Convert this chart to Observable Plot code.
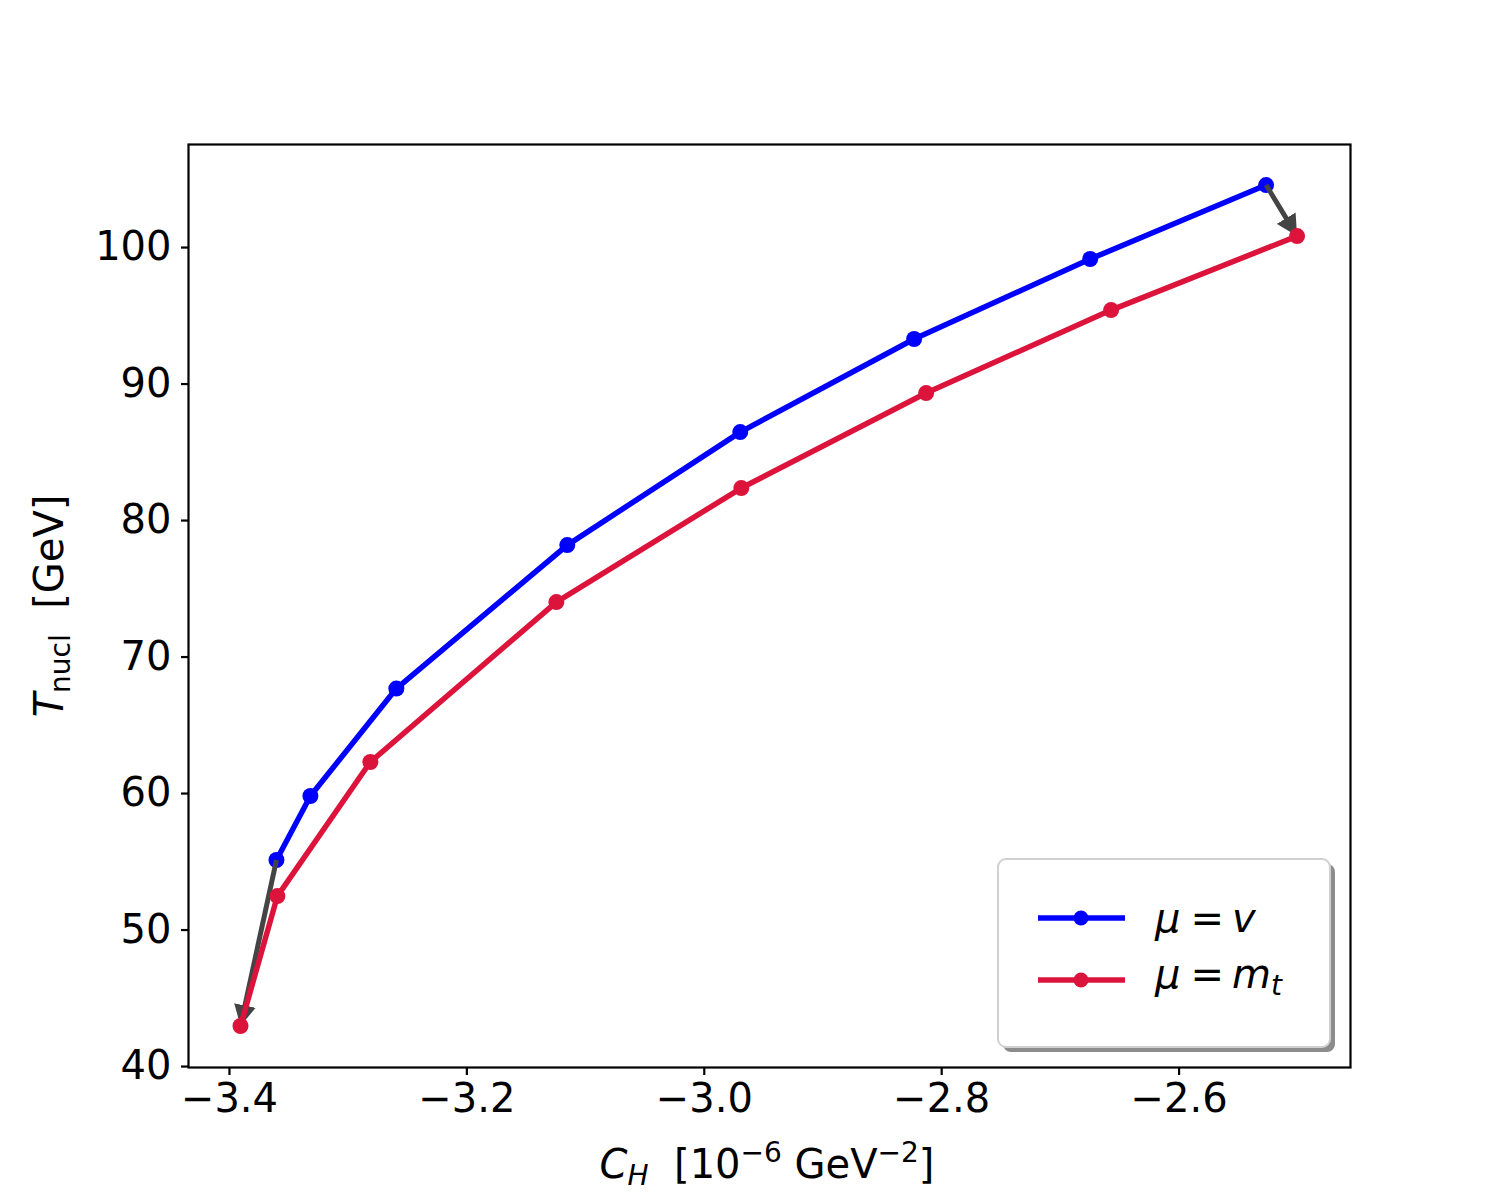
<!DOCTYPE html>
<html>
<head>
<meta charset="utf-8">
<script src="https://cdn.jsdelivr.net/npm/d3@7"></script>
<script src="https://cdn.jsdelivr.net/npm/@observablehq/plot@0.6"></script>
<style>
  html, body { margin: 0; padding: 0; background: white; }
  #chart { width: 1500px; height: 1200px; }
</style>
</head>
<body>
<div id="chart"></div>
<script>
// ---- data ----
const blueX = [-3.3604, -3.3318, -3.2594, -3.1154, -2.9697, -2.8232, -2.6749, -2.5267];
const blueY = [55.13, 59.82, 67.69, 78.20, 86.48, 93.30, 99.16, 104.58];
const redX  = [-3.3907, -3.3596, -3.2813, -3.1246, -2.9688, -2.8131, -2.6573, -2.5006];
const redY  = [42.97, 52.49, 62.31, 74.03, 82.38, 89.34, 95.42, 100.84];
const xTicks = [-3.4, -3.2, -3.0, -2.8, -2.6];
const yTicks = [40, 50, 60, 70, 80, 90, 100];

const blue = blueX.map((x, i) => ({x, y: blueY[i]}));
const red = redX.map((x, i) => ({x, y: redY[i]}));
const last = blueX.length - 1;
const arrows = [
  {x1: blueX[0], y1: blueY[0], x2: redX[0], y2: redY[0]},
  {x1: blueX[last], y1: blueY[last], x2: redX[last], y2: redY[last]}
];

const BLUE = "#0000ff", RED = "#dc143c", GREY = "#444444";
const FONT = "DejaVu Sans";

function arrowHead(color, context) {
  const m = d3.create("svg:marker")
    .attr("viewBox", "-21 -11 21 22")
    .attr("markerWidth", 21)
    .attr("markerHeight", 22)
    .attr("markerUnits", "userSpaceOnUse")
    .attr("refX", 0)
    .attr("refY", 0)
    .attr("orient", "auto");
  m.append("path").attr("d", "M-21,-11L0,0L-21,11Z").attr("fill", color).attr("stroke", "none");
  return m.node();
}

const plot = Plot.plot({
  width: 1500,
  height: 1200,
  marginLeft: 188,
  marginRight: 150,
  marginTop: 144,
  marginBottom: 133,
  style: {fontFamily: FONT, fontSize: "40px", background: "white", color: "black"},
  x: {domain: [-3.4345, -2.4556]},
  y: {domain: [39.93, 107.55]},
  marks: [
    Plot.axisX({ticks: xTicks, tickFormat: d3.format(".1f"), tickSize: 8, tickPadding: 8, label: null, fontSize: 40, strokeWidth: 2.2}),
    Plot.axisY({ticks: yTicks, tickFormat: d3.format("d"), tickSize: 7, tickPadding: 10, label: null, fontSize: 40, strokeWidth: 2.2}),
    Plot.line(blue, {x: "x", y: "y", stroke: BLUE, strokeWidth: 5.5}),
    Plot.dot(blue, {x: "x", y: "y", r: 8, fill: BLUE}),
    Plot.link(arrows, {x1: "x1", y1: "y1", x2: "x2", y2: "y2", stroke: GREY, strokeWidth: 5, markerEnd: arrowHead}),
    Plot.line(red, {x: "x", y: "y", stroke: RED, strokeWidth: 5.5}),
    Plot.dot(red, {x: "x", y: "y", r: 8, fill: RED}),
    Plot.frame({stroke: "black", strokeWidth: 2.2})
  ]
});
document.getElementById("chart").appendChild(plot);

const svg = d3.select(plot);

// x-axis label: C_H [10^-6 GeV^-2]
const xl = svg.append("text")
  .attr("x", 767).attr("y", 1178)
  .attr("text-anchor", "middle")
  .attr("font-family", FONT).attr("font-size", 40).attr("fill", "black");
xl.append("tspan").attr("font-style", "italic").text("C");
xl.append("tspan").attr("font-style", "italic").attr("font-size", 28).attr("dy", 7).text("H");
xl.append("tspan").attr("dy", -7).text("  [10");
xl.append("tspan").attr("font-size", 28).attr("dy", -16).text("−6");
xl.append("tspan").attr("dy", 16).text(" GeV");
xl.append("tspan").attr("font-size", 28).attr("dy", -16).text("−2");
xl.append("tspan").attr("dy", 16).text("]");

// y-axis label: T_nucl [GeV]
const yl = svg.append("text")
  .attr("transform", "translate(63,606) rotate(-90)")
  .attr("text-anchor", "middle")
  .attr("font-family", FONT).attr("font-size", 40).attr("fill", "black");
yl.append("tspan").attr("font-style", "italic").text("T");
yl.append("tspan").attr("font-size", 28).attr("dy", 7).text("nucl");
yl.append("tspan").attr("dy", -7).text("  [GeV]");

// legend
const lg = svg.append("g");
lg.append("rect").attr("x", 1003).attr("y", 864).attr("width", 332).attr("height", 188)
  .attr("rx", 8).attr("fill", "#8c8c8c");
lg.append("rect").attr("x", 998).attr("y", 859).attr("width", 332).attr("height", 188)
  .attr("rx", 8).attr("fill", "white").attr("stroke", "#d0d0d0").attr("stroke-width", 2);
const entries = [
  {color: BLUE, y: 918, base: 932, main: "v", sub: null},
  {color: RED, y: 980, base: 988, main: "m", sub: "t"}
];
entries.forEach((e) => {
  lg.append("line").attr("x1", 1038).attr("x2", 1125).attr("y1", e.y).attr("y2", e.y)
    .attr("stroke", e.color).attr("stroke-width", 5.5);
  lg.append("circle").attr("cx", 1081).attr("cy", e.y).attr("r", 7.5).attr("fill", e.color);
  const t = lg.append("text").attr("x", 1155).attr("y", e.base)
    .attr("text-anchor", "start")
    .attr("font-family", FONT).attr("font-size", 40).attr("fill", "black");
  t.append("tspan").attr("font-style", "italic").text("μ");
  t.append("tspan").attr("dx", 10).text("=");
  t.append("tspan").attr("dx", 8).attr("font-style", "italic").text(e.main);
  if (e.sub) t.append("tspan").attr("font-style", "italic").attr("font-size", 28).attr("dy", 7).text(e.sub);
});
</script>
</body>
</html>
